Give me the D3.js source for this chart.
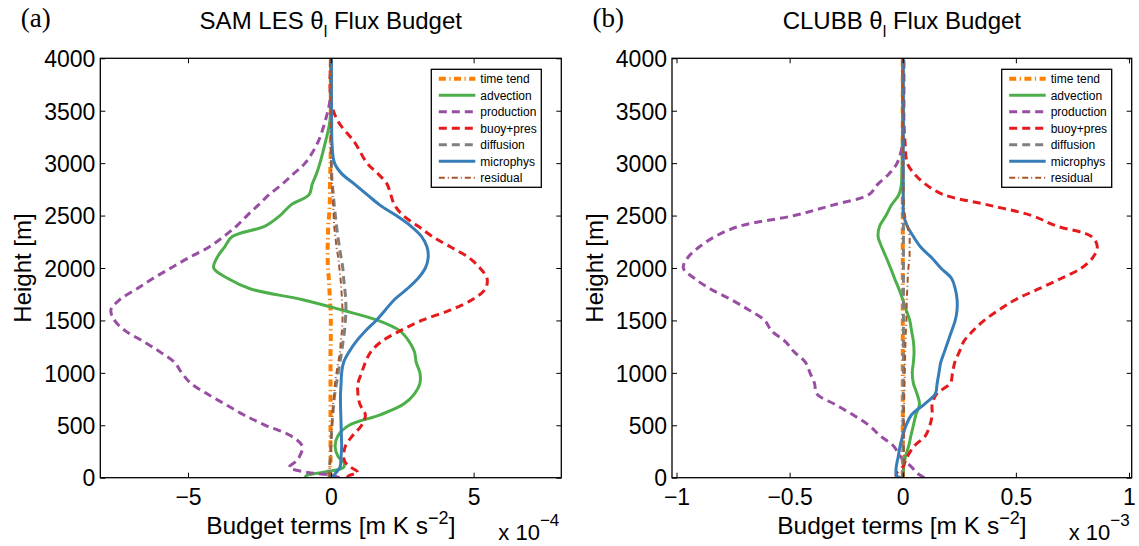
<!DOCTYPE html>
<html><head><meta charset="utf-8">
<script src="https://cdn.jsdelivr.net/npm/d3@7"></script>
<style>body{margin:0;background:#fff}svg{display:block}</style>
</head><body>
<svg id="c" width="1139" height="546"></svg>
<script>
// ---------------- DATA ----------------
const heights = [0,20,50,100,150,200,300,400,500,600,700,800,900,1000,1100,1200,1300,1400,1500,1600,1700,1800,1900,2000,2100,2200,2300,2400,2500,2600,2700,2800,2900,3000,3200,3400,3600,4000];
const seriesNames = ["time tend","advection","production","buoy+pres","diffusion","microphys","residual"];
const yTicks = [0,500,1000,1500,2000,2500,3000,3500,4000];

// Panel (a): SAM LES, units of 1e-4 m K s^-2
const samTitle = "SAM LES";
const samTicks = [-5,0,5];
const samExponent = "\u22124";
const samTime = [-0.03,-0.03,-0.02,-0.02,-0.01,-0.01,-0.01,-0.01,-0.01,-0.01,-0.01,-0.01,-0.01,-0.01,-0.01,-0.01,0,0,0,-0.01,-0.03,-0.05,-0.07,-0.10,-0.11,-0.11,-0.10,-0.09,-0.06,-0.04,-0.03,-0.03,-0.02,-0.01,0,0,0,0];
const samAdv = [-0.9,-0.85,-0.3,0.45,0.45,0.26,0.15,0.25,0.64,1.73,2.54,2.93,3.12,3.12,2.99,2.93,2.74,2.42,1.65,0.38,-1.02,-2.8,-3.6,-4.1,-3.98,-3.72,-3.45,-2.3,-1.78,-1.4,-0.76,-0.65,-0.5,-0.38,-0.19,-0.03,0,0];
const samProd = [0.3,0.1,-0.8,-1.45,-1.25,-1.1,-1.0,-1.4,-2.29,-3.05,-3.69,-4.33,-4.9,-5.22,-5.47,-5.98,-6.56,-7.19,-7.57,-7.7,-7.38,-6.8,-6.23,-5.6,-4.96,-4.26,-3.75,-3.3,-2.93,-2.54,-2.16,-1.7,-1.3,-0.9,-0.45,-0.2,-0.03,0];
const samBuoy = [0.57,0.64,0.95,0.7,0.5,0.45,0.51,0.76,1.08,1.21,1.02,0.95,0.95,1.08,1.21,1.4,1.78,2.42,3.18,4.2,4.96,5.41,5.47,5.22,4.83,4.2,3.56,3.05,2.54,2.23,2.1,1.97,1.65,1.27,0.83,0.25,0.0,0];
const samDiff = [-0.05,-0.07,-0.08,-0.05,-0.03,0,0,0.02,0.04,0.07,0.1,0.14,0.2,0.26,0.32,0.38,0.43,0.48,0.51,0.53,0.52,0.49,0.45,0.42,0.36,0.3,0.25,0.2,0.16,0.12,0.09,0.05,0.03,0.02,0.01,0,0,0];
const samMicro = [0.06,0.1,0.19,0.32,0.35,0.36,0.38,0.37,0.36,0.35,0.34,0.34,0.36,0.38,0.45,0.64,0.89,1.21,1.59,1.91,2.23,2.67,3.05,3.31,3.41,3.37,3.18,2.8,2.29,1.72,1.27,0.83,0.38,0.13,0.04,0.03,0.02,0.02];
const samResid = [-0.03,-0.05,-0.05,-0.04,-0.02,0,0,0.02,0.04,0.06,0.08,0.12,0.15,0.2,0.26,0.32,0.35,0.39,0.41,0.41,0.39,0.37,0.34,0.3,0.26,0.2,0.16,0.12,0.1,0.08,0.06,0.04,0.02,0.01,0,0,0,0];

// Panel (b): CLUBB, units of 1e-3 m K s^-2
const clubbTitle = "CLUBB";
const clubbTicks = [-1,-0.5,0,0.5,1];
const clubbExponent = "\u22123";
const clubbTime = [0,0,0,0,0,0,0,0,0,0,0,0,0,0,0,0,0,0,0,0,0,0,0,0,0,0,0,0,0,0,0,0,0,0,0,0,0,0];
const clubbAdv = [0,0.002,0.003,0.004,0.008,0.012,0.026,0.036,0.047,0.058,0.074,0.063,0.047,0.042,0.047,0.05,0.047,0.039,0.031,0.015,0,-0.017,-0.036,-0.054,-0.073,-0.093,-0.109,-0.102,-0.074,-0.05,-0.017,-0.006,-0.004,-0.003,-0.002,0,0,0];
const clubbProd = [0.095,0.08,0.06,0.04,0.015,-0.01,-0.04,-0.1,-0.15,-0.22,-0.3,-0.38,-0.39,-0.41,-0.43,-0.48,-0.52,-0.58,-0.61,-0.68,-0.76,-0.85,-0.92,-0.97,-0.95,-0.9,-0.83,-0.72,-0.48,-0.31,-0.15,-0.11,-0.06,-0.025,0,0,0,0];
const clubbBuoy = [-0.02,-0.03,-0.025,0,0.01,0.02,0.05,0.1,0.12,0.13,0.13,0.15,0.21,0.22,0.23,0.25,0.27,0.31,0.36,0.425,0.5,0.6,0.7,0.79,0.84,0.86,0.835,0.68,0.57,0.38,0.18,0.1,0.05,0.02,0.01,0.005,0.005,0.005];
const clubbDiff = [0,0,0,0,0,0,0.001,0.001,0.001,0.002,0.002,0.002,0.002,0.003,0.003,0.003,0.003,0.003,0.003,0.003,0.003,0.003,0.003,0.003,0.003,0.003,0.003,0.003,0.002,0.001,0,0,0,0,0,0,0,0];
const clubbMicro = [-0.01,-0.028,-0.03,-0.029,-0.025,-0.02,-0.012,0,0.015,0.039,0.095,0.144,0.152,0.16,0.168,0.184,0.2,0.216,0.232,0.24,0.24,0.232,0.216,0.168,0.127,0.079,0.047,0.02,0.004,0.002,0.002,0.002,0.002,0.002,0.002,0.002,0.002,0.002];
const clubbResid = [0.003,0.004,0.005,0.005,0.005,0.005,0.005,0.005,0.005,0.005,0.006,0.007,0.008,0.009,0.01,0.011,0.012,0.014,0.016,0.017,0.018,0.02,0.022,0.025,0.03,0.03,0.03,0.02,0.01,0.005,0.004,0.003,0.002,0.002,0.001,0,0,0];

// ---------------- STYLE ----------------
const styles = [
  {color:"#ff7f00", width:4,   dash:"7,3.5,1.2,3.5"},
  {color:"#4daf4a", width:3,   dash:null},
  {color:"#984ea3", width:3,   dash:"8,5"},
  {color:"#e41a1c", width:3,   dash:"8,5"},
  {color:"#808080", width:3,   dash:"8,5"},
  {color:"#377eb8", width:3,   dash:null},
  {color:"#a65628", width:2,   dash:"6,3,1,3"}
];
const FONT = "'Liberation Sans', Arial, Helvetica, sans-serif";
const svg = d3.select("#c");

function fmt(v){ return v < 0 ? "\u2212" + Math.abs(v) : String(v); }

function panel(opt){
  const {left,right,top,bottom,domain,ticks,title,exponent,letter,series} = opt;
  const x = d3.scaleLinear().domain(domain).range([left,right]);
  const y = d3.scaleLinear().domain([0,4000]).range([bottom,top]);
  const g = svg.append("g");
  const clipId = "clip" + letter;
  svg.append("clipPath").attr("id", clipId).append("rect")
    .attr("x", left).attr("y", top).attr("width", right-left).attr("height", bottom-top);

  // lines
  const line = d3.line().x(d=>x(d[1])).y(d=>y(d[0])).curve(d3.curveCatmullRom.alpha(0.5));
  const lg = g.append("g").attr("clip-path", `url(#${clipId})`);
  series.forEach((vals,i)=>{
    const s = styles[i];
    lg.append("path").datum(heights.map((h,j)=>[h, vals[j]]))
      .attr("d", line).attr("fill","none").attr("stroke", s.color)
      .attr("stroke-width", s.width).attr("stroke-dasharray", s.dash)
      .attr("stroke-linejoin","round");
  });

  // axes (ticks inside on all sides)
  const tl = 5;
  const ax = g.append("g");
  ax.append("g").attr("transform",`translate(0,${bottom})`)
    .call(d3.axisBottom(x).tickValues(ticks).tickSizeInner(-tl).tickSizeOuter(0).tickFormat(fmt))
    .call(a=>{ a.select(".domain").remove(); a.selectAll("text").attr("dy",null).attr("y",27).attr("font-size",23).attr("font-family",FONT).attr("fill","#000"); });
  ax.append("g").attr("transform",`translate(0,${top})`)
    .call(d3.axisTop(x).tickValues(ticks).tickSizeInner(-tl).tickSizeOuter(0).tickFormat(""))
    .call(a=>a.select(".domain").remove());
  ax.append("g").attr("transform",`translate(${left},0)`)
    .call(d3.axisLeft(y).tickValues(yTicks).tickSizeInner(-tl).tickSizeOuter(0).tickFormat(d3.format("d")))
    .call(a=>{ a.select(".domain").remove(); a.selectAll("text").attr("x",-5).attr("dy","0.36em").attr("font-size",23).attr("font-family",FONT).attr("fill","#000"); });
  ax.append("g").attr("transform",`translate(${right},0)`)
    .call(d3.axisRight(y).tickValues(yTicks).tickSizeInner(-tl).tickSizeOuter(0).tickFormat(""))
    .call(a=>a.select(".domain").remove());
  ax.selectAll(".tick line").attr("stroke","#000").attr("stroke-width",1);
  ax.append("rect").attr("x",left).attr("y",top).attr("width",right-left).attr("height",bottom-top)
    .attr("fill","none").attr("stroke","#000").attr("stroke-width",1.3);

  // title
  const cx = (left+right)/2;
  const t = g.append("text").attr("x",cx).attr("y",28.5).attr("text-anchor","middle")
    .attr("font-family",FONT).attr("font-size",24).attr("fill","#000");
  t.append("tspan").text(title + " \u03b8");
  t.append("tspan").attr("font-size",16).attr("dy",8).text("l");
  t.append("tspan").attr("dy",-8).text(" Flux Budget");

  // panel letter
  g.append("text").attr("x",left-79.5).attr("y",26.8).attr("font-family","'Liberation Serif','Times New Roman',serif")
    .attr("font-size",27).attr("fill","#000").text(`(${letter})`);

  // x label
  const xl = g.append("text").attr("x",cx).attr("y",534).attr("text-anchor","middle")
    .attr("font-family",FONT).attr("font-size",24.5).attr("fill","#000");
  xl.append("tspan").text("Budget terms [m K s");
  xl.append("tspan").attr("font-size",18).attr("dy",-10).text("\u22122");
  xl.append("tspan").attr("dy",10).text("]");

  // exponent
  const ex = g.append("text").attr("x",right-63).attr("y",540)
    .attr("font-family",FONT).attr("font-size",22).attr("fill","#000");
  ex.append("tspan").text("x 10");
  ex.append("tspan").attr("font-size",17).attr("dy",-14).text(exponent);

  // y label
  g.append("text").attr("transform",`translate(${left-69.5},${(top+bottom)/2}) rotate(-90)`)
    .attr("text-anchor","middle").attr("font-family",FONT).attr("font-size",24).attr("fill","#000")
    .text("Height [m]");

  // legend
  const lw = 110, lh = 118;
  const lx = right - 20 - lw, ly = top + 11;
  const leg = g.append("g");
  leg.append("rect").attr("x",lx).attr("y",ly).attr("width",lw).attr("height",lh)
    .attr("fill","#fff").attr("stroke","#000").attr("stroke-width",1.3);
  seriesNames.forEach((n,i)=>{
    const yy = ly + 9.5 + i*16.5;
    const s = styles[i];
    leg.append("line").attr("x1",lx+7.5).attr("x2",lx+44).attr("y1",yy).attr("y2",yy)
      .attr("stroke",s.color).attr("stroke-width",s.width).attr("stroke-dasharray",s.dash);
    leg.append("text").attr("x",lx+49).attr("y",yy).attr("dy","0.36em")
      .attr("font-family",FONT).attr("font-size",12).attr("fill","#000").text(n);
  });
}

panel({left:100.3,right:561.3,top:58.3,bottom:477.7,domain:[-8.07,8.07],ticks:samTicks,
  title:samTitle,exponent:samExponent,letter:"a",
  series:[samTime,samAdv,samProd,samBuoy,samDiff,samMicro,samResid]});
panel({left:672,right:1131.7,top:58.3,bottom:477.7,domain:[-1.02,1.012],ticks:clubbTicks,
  title:clubbTitle,exponent:clubbExponent,letter:"b",
  series:[clubbTime,clubbAdv,clubbProd,clubbBuoy,clubbDiff,clubbMicro,clubbResid]});
</script>
</body></html>
